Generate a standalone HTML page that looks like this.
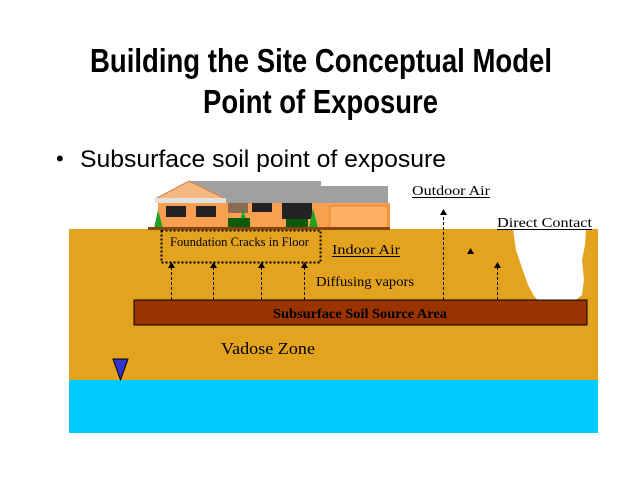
<!DOCTYPE html>
<html><head><style>
body{margin:0;background:#fff;width:640px;height:480px;overflow:hidden}
</style></head><body>
<svg width="640" height="480" xmlns="http://www.w3.org/2000/svg" font-family="Liberation Serif, serif">
<text x="90" y="72" textLength="462" lengthAdjust="spacingAndGlyphs" font-family="Liberation Sans, sans-serif" font-weight="bold" font-size="33">Building the Site Conceptual Model</text>
<text x="203" y="113" textLength="235" lengthAdjust="spacingAndGlyphs" font-family="Liberation Sans, sans-serif" font-weight="bold" font-size="33">Point of Exposure</text>
<text x="56" y="166" font-family="Liberation Sans, sans-serif" font-size="22">•</text>
<text x="80" y="167" textLength="366" lengthAdjust="spacingAndGlyphs" font-family="Liberation Sans, sans-serif" font-size="24">Subsurface soil point of exposure</text>
<rect x="69" y="229" width="529" height="151" fill="#e3a31e"/>
<rect x="69" y="380" width="529" height="53" fill="#00ccff"/>
<path d="M513 229 L586 229 L585 245 L582 260 L584 280 L582 295 L572 303 L555 307 L542 305 L534 296 L528 285 L522 268 L516 250 Z" fill="#fff"/>
<rect x="134" y="300" width="453" height="25" fill="#993300" stroke="#000" stroke-width="1"/>
<text x="273" y="318" textLength="174" lengthAdjust="spacingAndGlyphs" font-weight="bold" font-size="14">Subsurface Soil Source Area</text>
<rect x="161.5" y="230.5" width="159" height="32" fill="none" stroke="#000" stroke-width="2" stroke-dasharray="2,2"/>
<text x="170" y="246" textLength="139" lengthAdjust="spacingAndGlyphs" font-size="13">Foundation Cracks in Floor</text>
<!-- house -->
<rect x="190" y="181" width="131" height="22" fill="#a0a0a0"/>
<rect x="321" y="186" width="67" height="20" fill="#a0a0a0"/>
<path d="M155 199 L189 181 L226 199 Z" fill="#f5b880" stroke="#d08040"/>
<rect x="155" y="198" width="71" height="5" fill="#e0e0e0"/>
<rect x="158" y="203" width="232" height="26" fill="#f9a050"/>
<rect x="330" y="206" width="58" height="23" fill="#ffb060" stroke="#e08020"/>
<rect x="166" y="206" width="20" height="11" fill="#222"/>
<rect x="196" y="206" width="20" height="11" fill="#222"/>
<rect x="252" y="203" width="20" height="9" fill="#222"/>
<rect x="282" y="203" width="30" height="16" fill="#222"/>
<rect x="228" y="203" width="20" height="10" fill="#8a6a50"/>
<path d="M154 228 L158 210 L163 228 Z" fill="#20a020"/>
<path d="M239 228 L243 208 L248 228 Z" fill="#20a020"/>
<path d="M309 228 L313 208 L318 228 Z" fill="#20a020"/>
<rect x="228" y="218" width="22" height="10" fill="#0a5a0a"/>
<rect x="286" y="219" width="22" height="9" fill="#0a5a0a"/>
<rect x="148" y="227" width="242" height="3" fill="#8b4513"/>
<!-- arrows -->
<g stroke="#000" stroke-width="1" stroke-dasharray="3,2">
<line x1="171.5" y1="300" x2="171.5" y2="266"/>
<line x1="213.5" y1="300" x2="213.5" y2="266"/>
<line x1="261.5" y1="300" x2="261.5" y2="266"/>
<line x1="304.5" y1="300" x2="304.5" y2="266"/>
<line x1="443.5" y1="300" x2="443.5" y2="213"/>
<line x1="497.5" y1="300" x2="497.5" y2="266"/>
</g>
<g fill="#000">
<path d="M168 268 L171.5 262 L175 268 Z"/>
<path d="M210 268 L213.5 262 L217 268 Z"/>
<path d="M258 268 L261.5 262 L265 268 Z"/>
<path d="M301 268 L304.5 262 L308 268 Z"/>
<path d="M440 215 L443.5 209 L447 215 Z"/>
<path d="M494 268 L497.5 262 L501 268 Z"/>
<path d="M467 254 L470.5 248 L474 254 Z"/>
</g>
<text x="412" y="195" textLength="78" lengthAdjust="spacingAndGlyphs" font-size="14">Outdoor Air</text>
<line x1="412" y1="197.5" x2="490" y2="197.5" stroke="#000"/>
<text x="497" y="227" textLength="95" lengthAdjust="spacingAndGlyphs" font-size="14">Direct Contact</text>
<line x1="497" y1="229.5" x2="592" y2="229.5" stroke="#000"/>
<text x="332" y="254" textLength="68" lengthAdjust="spacingAndGlyphs" font-size="14">Indoor Air</text>
<line x1="332" y1="256.5" x2="400" y2="256.5" stroke="#000"/>
<text x="316" y="286" textLength="98" lengthAdjust="spacingAndGlyphs" font-size="14">Diffusing vapors</text>
<text x="221" y="354" textLength="94" lengthAdjust="spacingAndGlyphs" font-size="17">Vadose Zone</text>
<path d="M113 359 L128 359 L120.5 380 Z" fill="#3333cc" stroke="#000"/>
</svg>
</body></html>
